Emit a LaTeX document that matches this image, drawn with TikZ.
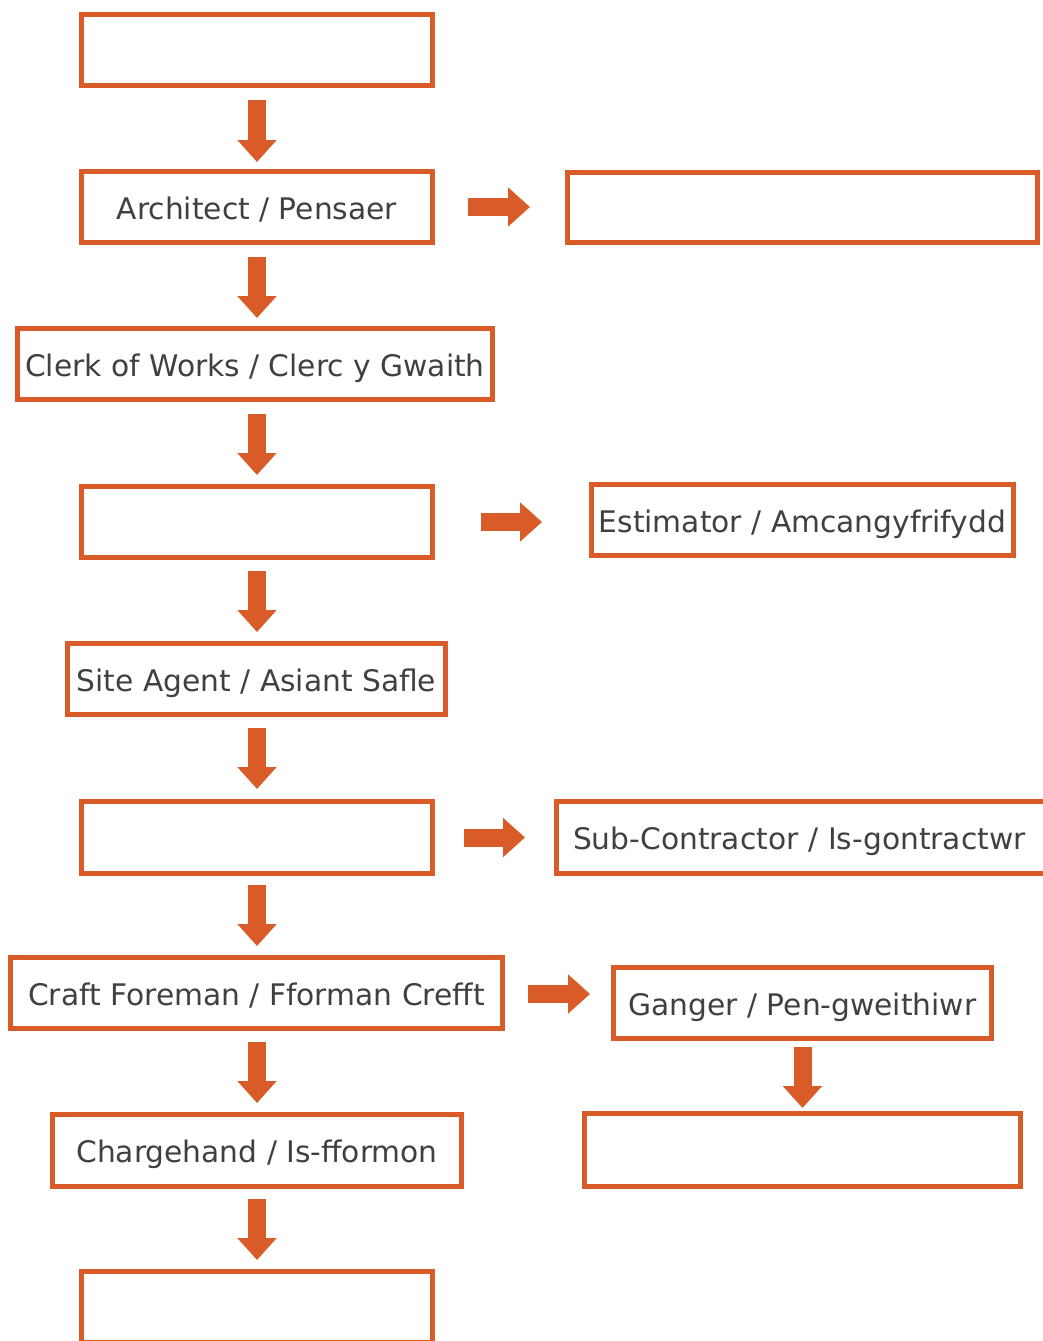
\documentclass[tikz,border=0pt]{standalone}
\usepackage{fontspec}
\setmainfont{DejaVu Sans}
\usetikzlibrary{arrows.meta}
\definecolor{orng}{HTML}{D95B27}
\definecolor{txt}{HTML}{404040}
\begin{document}
\begin{tikzpicture}[x=1pt,y=-1pt,
  box/.style={draw=orng,line width=5pt,fill=white,inner sep=0pt,text=txt,
    text height=26pt,text depth=2pt,
    font=\fontsize{29.7}{34}\selectfont},
  arr/.style={draw=orng,line width=18pt,-{Triangle[width=38pt,length=22pt]}}]
\useasboundingbox (0,0) rectangle (1043,1341);
\fill[white] (0,0) rectangle (1043,1341);
\node[box,minimum width=351pt,minimum height=71pt] (b1) at (257,50) {};
\node[box,minimum width=351pt,minimum height=71pt] (b2) at (257,207) {Architect / Pensaer};
\node[box,minimum width=470pt,minimum height=70pt] (b3) at (802.5,207.5) {};
\node[box,minimum width=475pt,minimum height=71pt] (b4) at (255,364) {Clerk of Works / Clerc y Gwaith};
\node[box,minimum width=351pt,minimum height=71pt] (b5) at (257,522) {};
\node[box,minimum width=422pt,minimum height=71pt] (b6) at (802.5,520) {Estimator / Amcangyfrifydd};
\node[box,minimum width=378pt,minimum height=71pt] (b7) at (256.5,679) {Site Agent / Asiant Safle};
\node[box,minimum width=351pt,minimum height=72pt] (b8) at (257,837.5) {};
\node[box,minimum width=491pt,minimum height=72pt,text width=458pt,align=left] (b9) at (802,837.5) {\mbox{Sub-Contractor / Is-gontractwr}};
\node[box,minimum width=492pt,minimum height=71pt] (b10) at (256.5,993) {Craft Foreman / Fforman Crefft};
\node[box,minimum width=378pt,minimum height=71pt] (b11) at (802.5,1003) {Ganger / Pen-gweithiwr};
\node[box,minimum width=436pt,minimum height=73pt] (b12) at (802.5,1150) {};
\node[box,minimum width=409pt,minimum height=72pt] (b13) at (257,1150.5) {Chargehand / Is-fformon};
\node[box,minimum width=351pt,minimum height=71pt] (b14) at (257,1307) {};
% vertical arrows
\draw[arr] ([yshift=-12]b1.south) -- ([yshift=7]b1.south |- b2.north);
\draw[arr] ([yshift=-12]b2.south) -- ([yshift=8]b2.south |- b4.north);
\draw[arr] ([yshift=-12]b4.south -| b2.south) -- ([yshift=9]b2.south |- b5.north);
\draw[arr] ([yshift=-11]b5.south) -- ([yshift=9]b5.south |- b7.north);
\draw[arr] ([yshift=-11]b7.south -| b5.south) -- ([yshift=10]b5.south |- b8.north);
\draw[arr] ([yshift=-9]b8.south) -- ([yshift=9]b8.south |- b10.north);
\draw[arr] ([yshift=-11]b10.south -| b8.south) -- ([yshift=9]b8.south |- b13.north);
\draw[arr] ([yshift=-10]b13.south) -- ([yshift=9]b13.south |- b14.north);
\draw[arr] ([yshift=-6]b11.south) -- ([yshift=3]b11.south |- b12.north);
% horizontal arrows
\draw[arr] ([xshift=33]b2.east) -- ([xshift=-35]b2.east -| b3.west);
\draw[arr] ([xshift=46]b5.east) -- ([xshift=-47]b5.east -| b6.west);
\draw[arr] ([xshift=29]b8.east) -- ([xshift=-29]b8.east -| b9.west);
\draw[arr] ([xshift=23,yshift=-1]b10.east) -- ([xshift=-21,yshift=-1]b10.east -| b11.west);
\end{tikzpicture}
\end{document}
